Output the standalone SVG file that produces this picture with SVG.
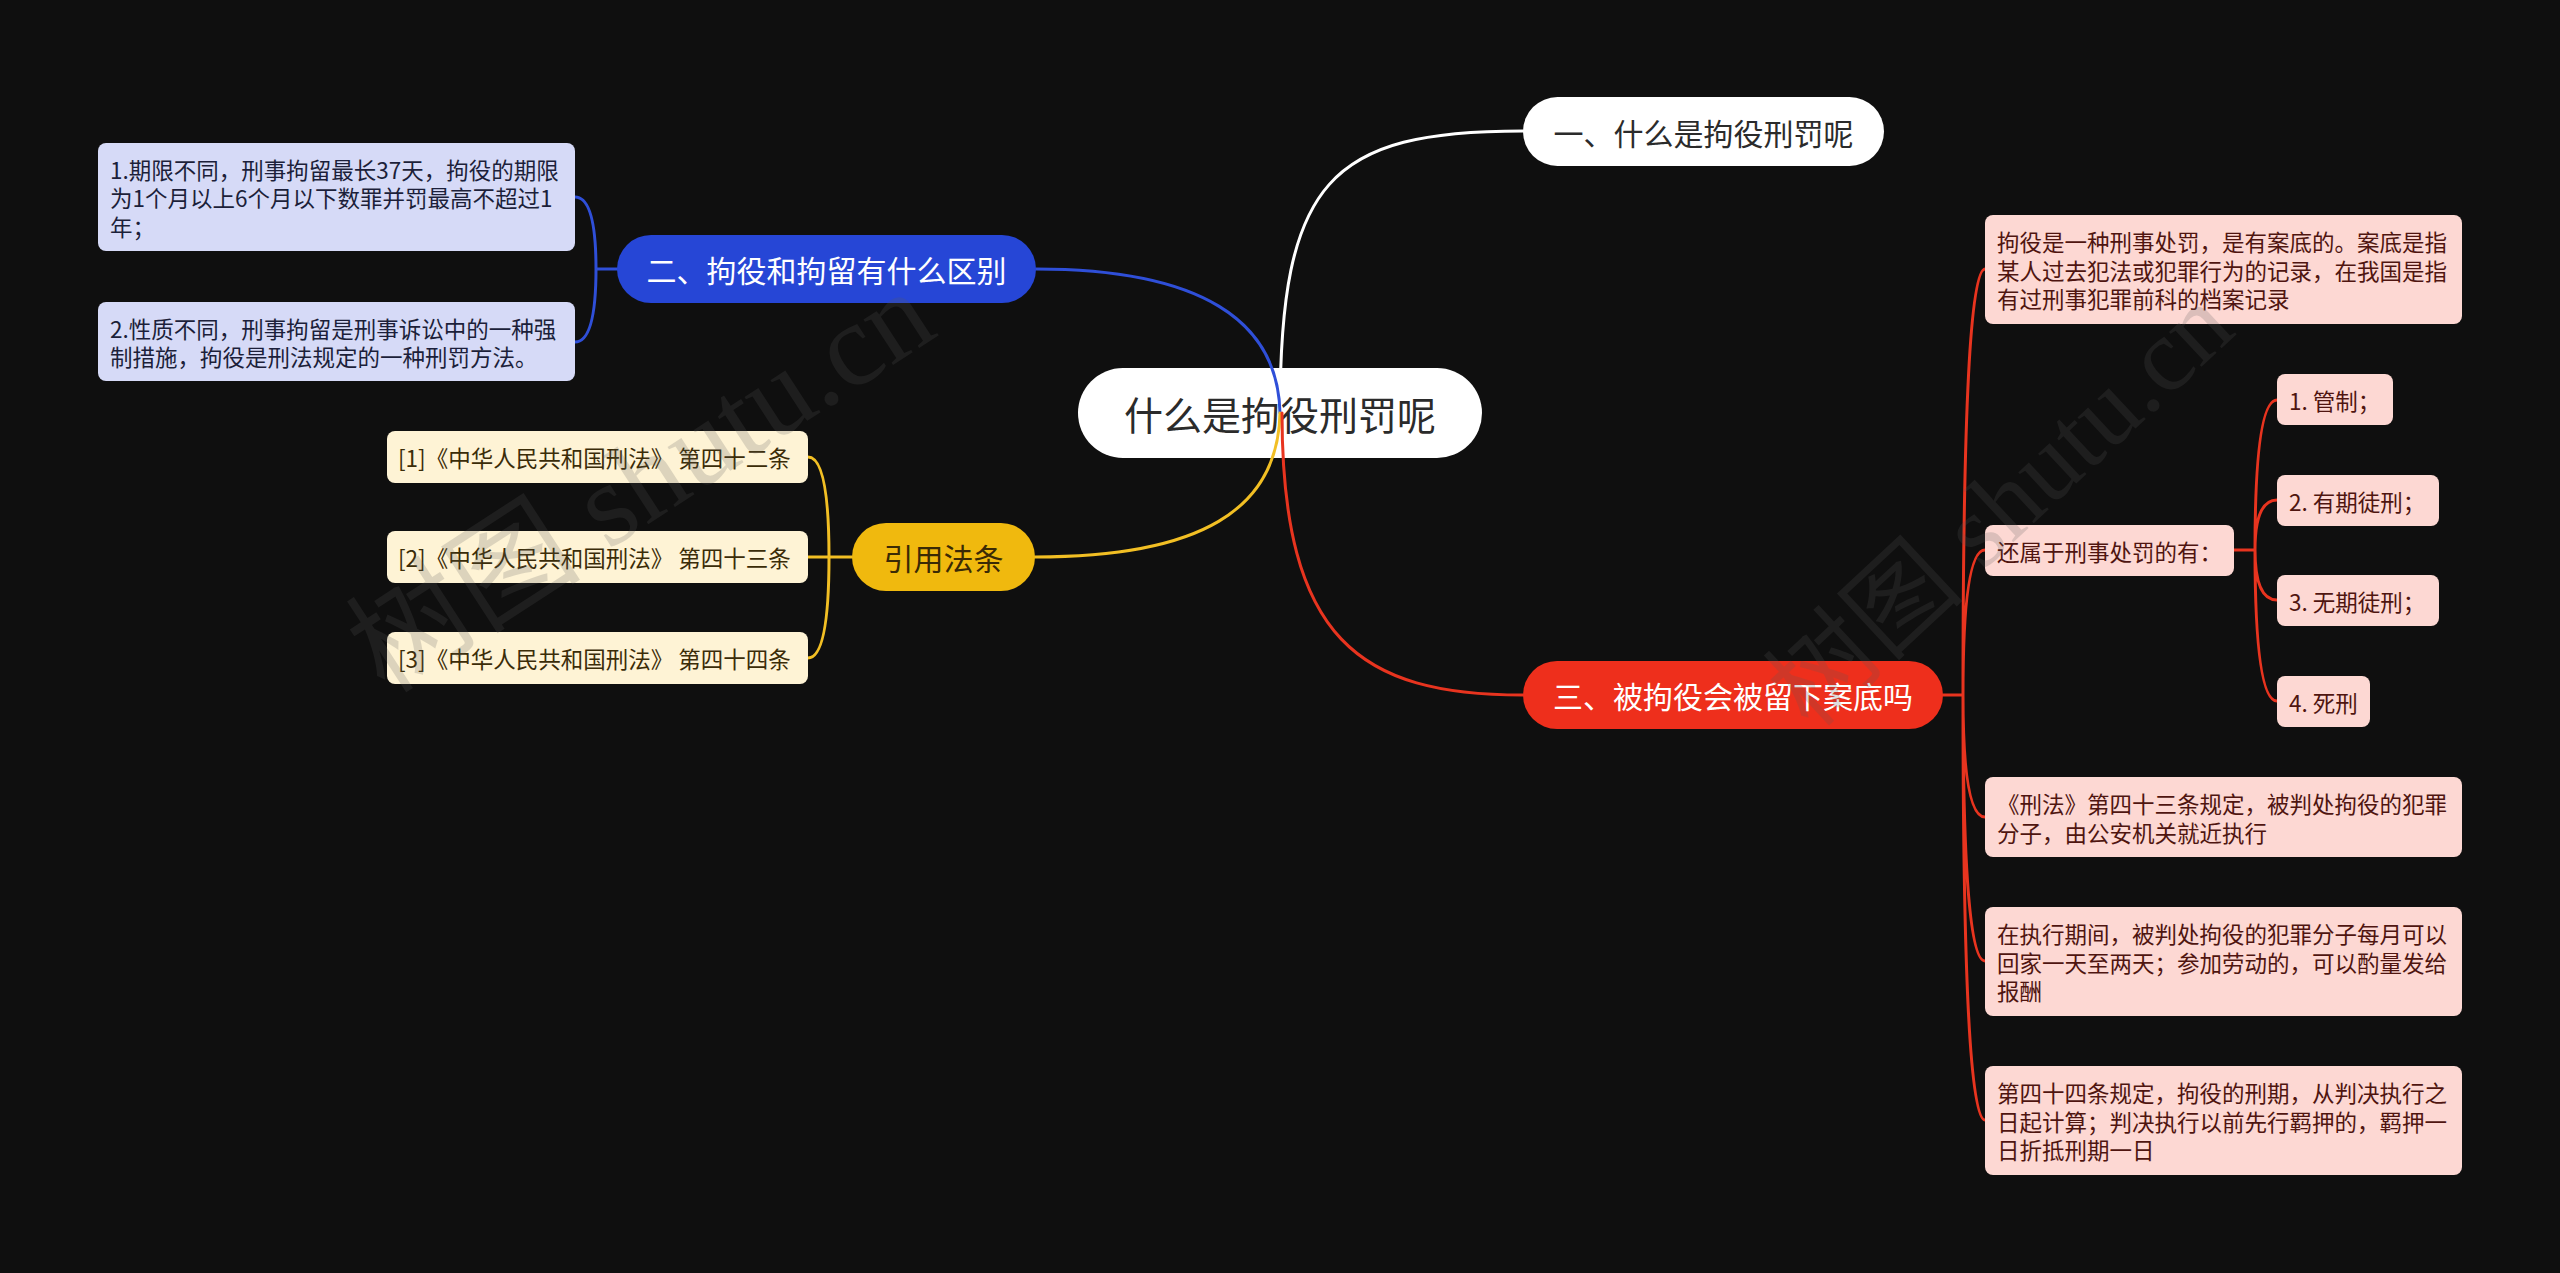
<svg xmlns="http://www.w3.org/2000/svg" width="2560" height="1273" viewBox="0 0 2560 1273">
<style>
text { font-family: 'Noto Sans CJK SC', 'Noto Sans', sans-serif; }
.c { fill: none; stroke-width: 3; stroke-linecap: round; }
.w { stroke: #ffffff; }
.b { stroke: #2f4fd8; }
.y { stroke: #f2bf24; }
.r { stroke: #e8341f; }
.t30 { font-size: 30px; dominant-baseline: central; text-anchor: middle; }
.t22 { font-size: 22.5px; dominant-baseline: central; }
.lbox { fill: #d6daf7; }
.lt { fill: #1c1f3a; }
.cbox { fill: #fef3d5; }
.ct { fill: #3b2c08; }
.rbox { fill: #fdd8d3; }
.rt { fill: #4f1510; }
.wm { font-family: 'Liberation Serif', 'Noto Sans CJK SC', serif; fill: #5a5a5a; opacity: 0.2; }
</style>
<rect width="2560" height="1273" fill="#0f0f0f"/>

<g id="root">
  <rect x="1078" y="368" width="404" height="90" rx="45" fill="#ffffff"/>
  <text x="1280" y="413" font-size="39" dominant-baseline="central" text-anchor="middle" fill="#2b2b2b">什么是拘役刑罚呢</text>
</g>

<g id="connectors">
  <path class="c w" d="M1280,413 C1280,180 1330,131 1523,131"/>
  <path class="c b" d="M1280,413 C1278,320 1200,269 1036,269"/>
  <path class="c y" d="M1280,413 C1278,510 1200,557 1035,557"/>
  <path class="c r" d="M1282,413 C1282,640 1360,695 1523,695"/>
  <path class="c b" d="M617,269 L596,269 M596,269 Q596,197 575,197 M596,269 Q596,342 575,342"/>
  <path class="c y" d="M852,557 L829,557 M829,557 Q829,457 808,457 M829,557 L808,557 M829,557 Q829,658 808,658"/>
  <path class="c r" d="M1943,695 L1963,695 M1963,695 Q1963,269 1985,269 M1963,695 Q1963,550 1985,550 M1963,695 Q1963,817 1985,817 M1963,695 Q1963,961 1985,961 M1963,695 Q1963,1120 1985,1120"/>
  <path class="c r" d="M2234,550 L2255,550 M2255,550 Q2255,400 2277,400 M2255,550 Q2255,500 2277,500 M2255,550 Q2255,600 2277,600 M2255,550 Q2255,701 2277,701"/>
</g>

<g id="n1">
  <rect x="1523" y="97" width="361" height="69" rx="34.5" fill="#ffffff"/>
  <text class="t30" x="1703.5" y="131.5" fill="#2b2b2b">一、什么是拘役刑罚呢</text>
</g>
<g id="n2">
  <rect x="617" y="235" width="419" height="68" rx="34" fill="#2646d6"/>
  <text class="t30" x="826.5" y="269" fill="#ffffff">二、拘役和拘留有什么区别</text>
</g>
<g id="n3">
  <rect x="852" y="523" width="183" height="68" rx="34" fill="#f0b90e"/>
  <text class="t30" x="943.5" y="557" fill="#3a2a05">引用法条</text>
</g>
<g id="n4">
  <rect x="1523" y="661" width="420" height="68" rx="34" fill="#ee2f1c"/>
  <text class="t30" x="1733" y="695" fill="#ffffff">三、被拘役会被留下案底吗</text>
</g>

<g id="n2-1">
  <rect class="lbox" x="98" y="143" width="477" height="108" rx="8"/>
  <text class="t22 lt" x="110"><tspan x="110" y="168.5">1.期限不同，刑事拘留最长37天，拘役的期限</tspan><tspan x="110" y="197">为1个月以上6个月以下数罪并罚最高不超过1</tspan><tspan x="110" y="225.5">年；</tspan></text>
</g>
<g id="n2-2">
  <rect class="lbox" x="98" y="302" width="477" height="79" rx="8"/>
  <text class="t22 lt" x="110"><tspan x="110" y="327.5">2.性质不同，刑事拘留是刑事诉讼中的一种强</tspan><tspan x="110" y="356">制措施，拘役是刑法规定的一种刑罚方法。</tspan></text>
</g>

<g id="n3-1">
  <rect class="cbox" x="387" y="431" width="421" height="52" rx="8"/>
  <text class="t22 ct" x="398" y="457">[1]《中华人民共和国刑法》 第四十二条</text>
</g>
<g id="n3-2">
  <rect class="cbox" x="387" y="531" width="421" height="52" rx="8"/>
  <text class="t22 ct" x="398" y="557">[2]《中华人民共和国刑法》 第四十三条</text>
</g>
<g id="n3-3">
  <rect class="cbox" x="387" y="632" width="421" height="52" rx="8"/>
  <text class="t22 ct" x="398" y="658">[3]《中华人民共和国刑法》 第四十四条</text>
</g>

<g id="n4-1">
  <rect class="rbox" x="1985" y="215" width="477" height="109" rx="8"/>
  <text class="t22 rt"><tspan x="1997" y="241">拘役是一种刑事处罚，是有案底的。案底是指</tspan><tspan x="1997" y="269.5">某人过去犯法或犯罪行为的记录，在我国是指</tspan><tspan x="1997" y="298">有过刑事犯罪前科的档案记录</tspan></text>
</g>
<g id="n4-2">
  <rect class="rbox" x="1985" y="525" width="249" height="51" rx="8"/>
  <text class="t22 rt" x="1997" y="550.5">还属于刑事处罚的有：</text>
</g>
<g id="n4-2-1">
  <rect class="rbox" x="2277" y="374" width="116" height="51" rx="8"/>
  <text class="t22 rt" x="2289" y="399.5">1. 管制；</text>
</g>
<g id="n4-2-2">
  <rect class="rbox" x="2277" y="475" width="162" height="51" rx="8"/>
  <text class="t22 rt" x="2289" y="500.5">2. 有期徒刑；</text>
</g>
<g id="n4-2-3">
  <rect class="rbox" x="2277" y="575" width="162" height="51" rx="8"/>
  <text class="t22 rt" x="2289" y="600.5">3. 无期徒刑；</text>
</g>
<g id="n4-2-4">
  <rect class="rbox" x="2277" y="676" width="93" height="51" rx="8"/>
  <text class="t22 rt" x="2289" y="701.5">4. 死刑</text>
</g>
<g id="n4-3">
  <rect class="rbox" x="1985" y="777" width="477" height="80" rx="8"/>
  <text class="t22 rt"><tspan x="1997" y="803">《刑法》第四十三条规定，被判处拘役的犯罪</tspan><tspan x="1997" y="831.5">分子，由公安机关就近执行</tspan></text>
</g>
<g id="n4-4">
  <rect class="rbox" x="1985" y="907" width="477" height="109" rx="8"/>
  <text class="t22 rt"><tspan x="1997" y="933">在执行期间，被判处拘役的犯罪分子每月可以</tspan><tspan x="1997" y="961.5">回家一天至两天；参加劳动的，可以酌量发给</tspan><tspan x="1997" y="990">报酬</tspan></text>
</g>
<g id="n4-5">
  <rect class="rbox" x="1985" y="1066" width="477" height="109" rx="8"/>
  <text class="t22 rt"><tspan x="1997" y="1092">第四十四条规定，拘役的刑期，从判决执行之</tspan><tspan x="1997" y="1120.5">日起计算；判决执行以前先行羁押的，羁押一</tspan><tspan x="1997" y="1149">日折抵刑期一日</tspan></text>
</g>

<g id="watermark">
  <text class="wm" font-size="118" transform="translate(385,695) rotate(-33)">树图 shutu.cn</text>
  <text class="wm" font-size="104" transform="translate(1811,731) rotate(-43)">树图 shutu.cn</text>
</g>
</svg>
